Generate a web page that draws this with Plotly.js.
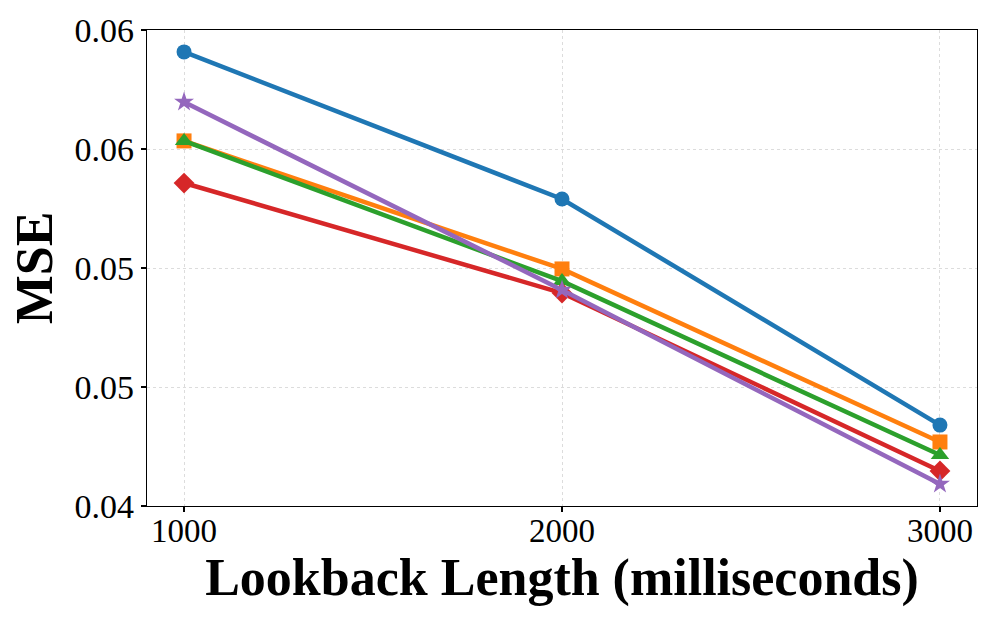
<!DOCTYPE html>
<html><head><meta charset="utf-8">
<script src="https://cdn.plot.ly/plotly-3.0.1.min.js"></script>
<style>body{margin:0;background:#fff}#chart{width:996px;height:623px}</style>
</head><body><div id="chart"></div>
<script>
const lookback = [1000, 2000, 3000];
const seriesA = [0.05908, 0.0529, 0.0434];
const seriesB = [0.05534, 0.04996, 0.04269];
const seriesC = [0.05534, 0.04945, 0.04214];
const seriesD = [0.05357, 0.04895, 0.04147];
const seriesE = [0.05697, 0.04908, 0.04092];
const yTickVals = [0.040, 0.045, 0.050, 0.055, 0.060];
const yTickText = ["0.04", "0.05", "0.05", "0.06", "0.06"];
const xTickVals = [1000, 2000, 3000];

const colors = ['#1f77b4', '#ff7f0e', '#2ca02c', '#d62728', '#9467bd'];
const symbols = ['circle', 'square', 'triangle-up', 'diamond', 'star'];
const sizes = [15, 15, 16, 16, 15];
const all = [seriesA, seriesB, seriesC, seriesD, seriesE];
const traces = all.map((ys, i) => ({
  x: lookback, y: ys, type: 'scatter', mode: 'lines+markers',
  line: {color: colors[i], width: 4.5},
  marker: {color: colors[i], symbol: symbols[i], size: sizes[i]},
  showlegend: false, cliponaxis: false
}));
const font = 'Liberation Serif, Times New Roman, serif';
const layout = {
  width: 996, height: 623,
  margin: {l: 147, r: 19, t: 30, b: 117},
  paper_bgcolor: '#fff', plot_bgcolor: '#fff',
  font: {family: font, color: '#000'},
  xaxis: {
    range: [902, 3098], tickvals: xTickVals, ticktext: xTickVals.map(String),
    ticks: 'outside', ticklen: 5, tickwidth: 1.2, tickcolor: '#000',
    tickfont: {size: 33, family: font}, ticklabelstandoff: -10,
    showline: true, linecolor: '#000', linewidth: 1.2, mirror: true,
    showgrid: true, gridcolor: '#dcdcdc', griddash: 'dot', gridwidth: 1,
    zeroline: false,
    title: {text: '<b>Lookback Length (milliseconds)</b>', font: {size: 52, family: font}, standoff: 2}
  },
  yaxis: {
    range: [0.04, 0.06], tickvals: yTickVals, ticktext: yTickText,
    ticks: 'outside', ticklen: 5, tickwidth: 1.2, tickcolor: '#000',
    tickfont: {size: 34, family: font},
    showline: true, linecolor: '#000', linewidth: 1.2, mirror: true,
    showgrid: true, gridcolor: '#dcdcdc', griddash: 'dot', gridwidth: 1,
    zeroline: false,
    title: {text: '<b>MSE</b>', font: {size: 52, family: font}, standoff: 5}
  }
};
Plotly.newPlot('chart', traces, layout, {displayModeBar: false, staticPlot: true});
</script></body></html>
